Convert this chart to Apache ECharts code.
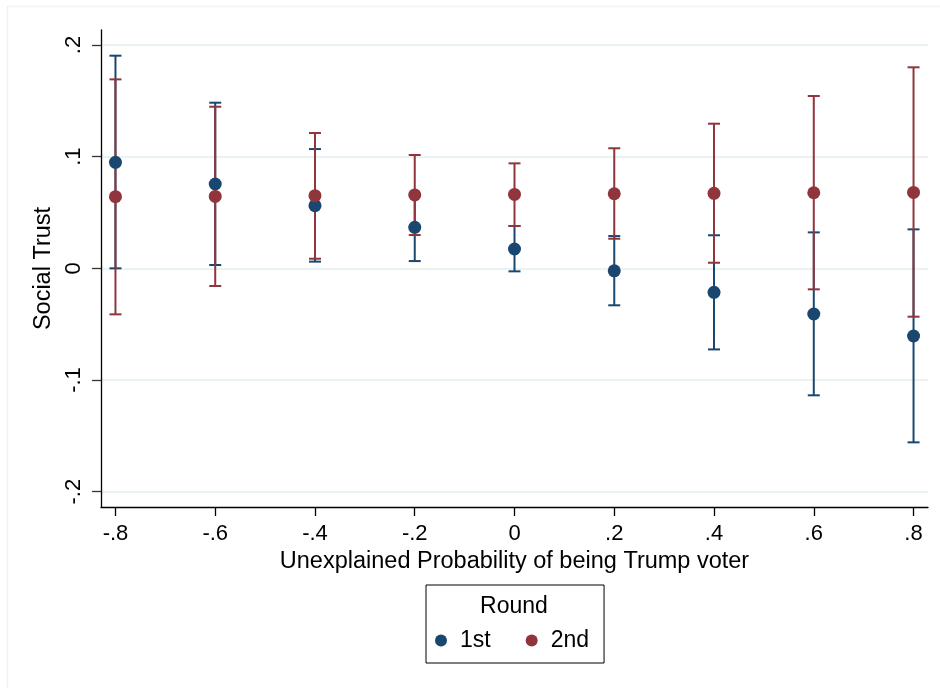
<!DOCTYPE html>
<html>
<head>
<meta charset="utf-8">
<script src="https://cdn.jsdelivr.net/npm/echarts@6/dist/echarts.min.js"></script>
<style>
html,body{margin:0;padding:0;background:#fff;}
#chart{width:940px;height:688px;}
</style>
</head>
<body>
<div id="chart"></div>
<script>
// ---- data ----
const xValues = [-0.8, -0.6, -0.4, -0.2, 0, 0.2, 0.4, 0.6, 0.8];
const firstEst = [0.0949, 0.0755, 0.0561, 0.0367, 0.0173, -0.0022, -0.0215, -0.0409, -0.0606];
const firstLo  = [0.0000, 0.0030, 0.0060, 0.0065, -0.0027, -0.0331, -0.0726, -0.1137, -0.1558];
const firstHi  = [0.1904, 0.1483, 0.1068, 0.0668, 0.0379, 0.0289, 0.0296, 0.0322, 0.0349];
const secondEst = [0.0642, 0.0644, 0.0651, 0.0657, 0.0662, 0.0668, 0.0672, 0.0677, 0.0680];
const secondLo  = [-0.0412, -0.0158, 0.0086, 0.0298, 0.0379, 0.0265, 0.0050, -0.0188, -0.0433];
const secondHi  = [0.1692, 0.1447, 0.1212, 0.1015, 0.0940, 0.1075, 0.1295, 0.1543, 0.1800];
const xTicks = [-0.8, -0.6, -0.4, -0.2, 0, 0.2, 0.4, 0.6, 0.8];
const xTickLabels = ['-.8', '-.6', '-.4', '-.2', '0', '.2', '.4', '.6', '.8'];
const yTicks = [-0.2, -0.1, 0, 0.1, 0.2];
const yTickLabels = ['-.2', '-.1', '0', '.1', '.2'];
const seriesNames = ['1st', '2nd'];

const BLUE = '#1a476f';
const RED = '#90353b';
const FONT = 'Liberation Sans';

function labelFor(ticks, labels) {
  return function (v) {
    for (let i = 0; i < ticks.length; i++) {
      if (Math.abs(ticks[i] - v) < 1e-9) return labels[i];
    }
    return '';
  };
}

function ciData(lo, hi) {
  return xValues.map((x, i) => [x, lo[i], hi[i]]);
}
function ptData(est) {
  return xValues.map((x, i) => [x, est[i]]);
}
function ciRenderer(color) {
  return function (params, api) {
    const x = api.value(0);
    const pLo = api.coord([x, api.value(1)]);
    const pHi = api.coord([x, api.value(2)]);
    const w = 6;
    const st = { stroke: color, lineWidth: 2 };
    return {
      type: 'group',
      children: [
        { type: 'line', shape: { x1: pLo[0], y1: pLo[1], x2: pHi[0], y2: pHi[1] }, style: st },
        { type: 'line', shape: { x1: pLo[0] - w, y1: pLo[1], x2: pLo[0] + w, y2: pLo[1] }, style: st },
        { type: 'line', shape: { x1: pHi[0] - w, y1: pHi[1], x2: pHi[0] + w, y2: pHi[1] }, style: st }
      ]
    };
  };
}

const chart = echarts.init(document.getElementById('chart'), null, { renderer: 'canvas' });
chart.setOption({
  backgroundColor: '#ffffff',
  animation: false,
  textStyle: { fontFamily: FONT },
  grid: { left: 101, top: 30, right: 12, bottom: 181, containLabel: false },
  xAxis: {
    type: 'value',
    min: -0.829,
    max: 0.829,
    name: 'Unexplained Probability of being Trump voter',
    nameLocation: 'middle',
    nameGap: 39,
    nameTextStyle: { fontSize: 23.5, color: '#000', fontFamily: FONT },
    axisLine: { show: true, onZero: false, lineStyle: { color: '#000', width: 1.3 } },
    axisTick: { show: true, length: 9, customValues: xTicks, lineStyle: { color: '#000', width: 1.3 } },
    axisLabel: { show: true, customValues: xTicks, formatter: labelFor(xTicks, xTickLabels), fontSize: 22, color: '#000', margin: 16, fontFamily: FONT },
    splitLine: { show: false }
  },
  yAxis: {
    type: 'value',
    min: -0.2137,
    max: 0.2134,
    name: 'Social Trust',
    nameLocation: 'middle',
    nameGap: 40,
    nameTextStyle: { fontSize: 23.5, color: '#000', fontFamily: FONT },
    axisLine: { show: true, onZero: false, lineStyle: { color: '#000', width: 1.3 } },
    axisTick: { show: true, length: 9, customValues: yTicks, lineStyle: { color: '#333', width: 1.3 } },
    axisLabel: { show: true, customValues: yTicks, formatter: labelFor(yTicks, yTickLabels), rotate: 90, fontSize: 22, color: '#000', margin: 16, fontFamily: FONT },
    splitLine: { show: true, lineStyle: { color: '#eaf2f3', width: 2 } }
  },
  legend: {
    data: seriesNames,
    left: 426,
    top: 585,
    orient: 'horizontal',
    padding: [44, 15, 11, 9],
    borderColor: '#000',
    borderWidth: 1,
    itemWidth: 12,
    itemHeight: 12,
    itemGap: 35,
    icon: 'circle',
    textStyle: { fontSize: 23, color: '#000', fontFamily: FONT, padding: [0, 0, 0, 8] }
  },
  graphic: [
    { type: 'rect', silent: true, z: -10, shape: { x: 7.5, y: 6.5, width: 1000, height: 1000 }, style: { fill: 'none', stroke: '#eef4f4', lineWidth: 1.5 } },
    { type: 'text', silent: true, x: 514, y: 607, style: { text: 'Round', fontSize: 23, fontFamily: FONT, fill: '#000', align: 'center', verticalAlign: 'middle' } }
  ],
  series: [
    { name: '1st CI', type: 'custom', renderItem: ciRenderer(BLUE), encode: { x: 0, y: [1, 2] }, data: ciData(firstLo, firstHi), z: 2 },
    { name: '2nd CI', type: 'custom', renderItem: ciRenderer(RED), encode: { x: 0, y: [1, 2] }, data: ciData(secondLo, secondHi), z: 3 },
    { name: seriesNames[0], type: 'scatter', data: ptData(firstEst), symbol: 'circle', symbolSize: 13, itemStyle: { color: BLUE, opacity: 1 }, z: 4 },
    { name: seriesNames[1], type: 'scatter', data: ptData(secondEst), symbol: 'circle', symbolSize: 13, itemStyle: { color: RED, opacity: 1 }, z: 5 }
  ]
});
</script>
</body>
</html>
